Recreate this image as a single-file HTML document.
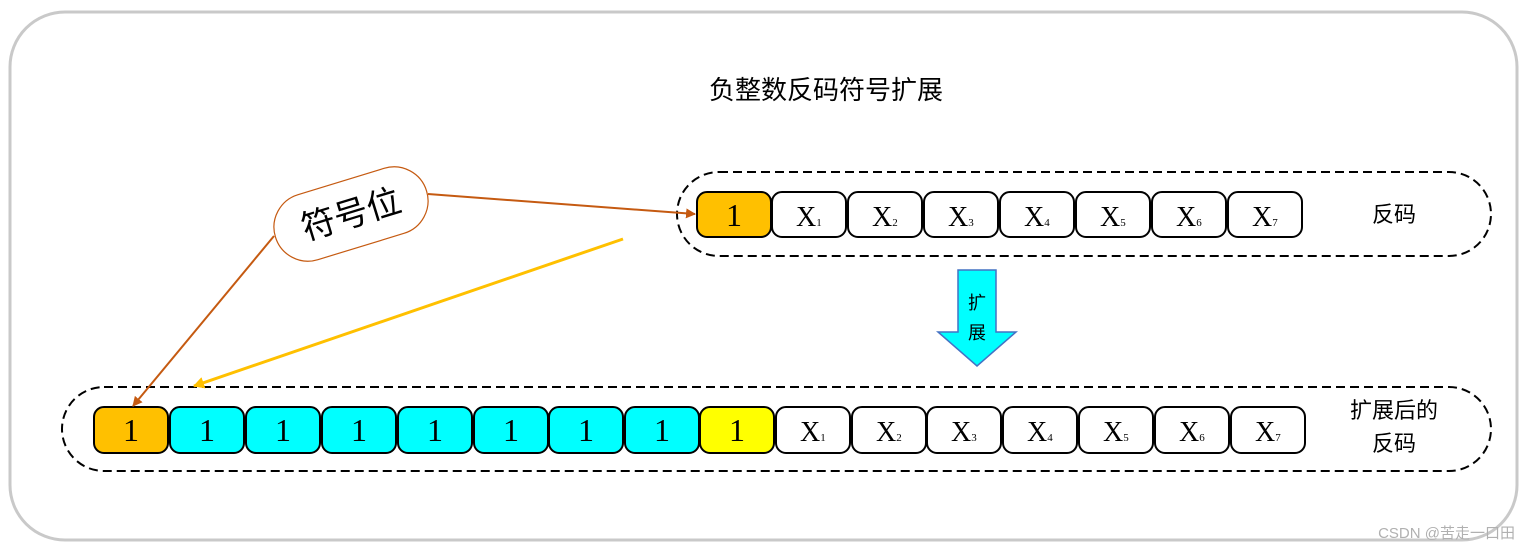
<!DOCTYPE html>
<html><head><meta charset="utf-8"><style>
body{margin:0;background:#fff;}
svg{display:block;}
.c{font-family:"Liberation Serif","Noto Serif CJK SC",serif;}
.z{font-family:"Liberation Sans","Noto Sans CJK SC",sans-serif;}
</style></head><body>
<svg width="1527" height="551" viewBox="0 0 1527 551" xmlns="http://www.w3.org/2000/svg">
<defs>
<marker id="ab" markerWidth="10" markerHeight="10" refX="9" refY="5" orient="auto" markerUnits="userSpaceOnUse"><path d="M0,0 L10,5 L0,10 z" fill="#c55a11"/></marker>
<marker id="ay" markerWidth="12" markerHeight="12" refX="10" refY="6" orient="auto" markerUnits="userSpaceOnUse"><path d="M0,0 L11,6 L0,12 z" fill="#ffc000"/></marker>
</defs>
<rect x="10" y="12" width="1507" height="528" rx="55" fill="#fff" stroke="#c9c9c9" stroke-width="3"/>
<text x="826" y="99" font-size="26" text-anchor="middle" class="z">负整数反码符号扩展</text>
<rect x="677" y="172" width="814" height="84" rx="42" fill="none" stroke="#000" stroke-width="2" stroke-dasharray="9,5"/>
<rect x="62" y="387" width="1429" height="84" rx="42" fill="none" stroke="#000" stroke-width="2" stroke-dasharray="9,5"/>
<g stroke="#000" stroke-width="2">
<rect x="697" y="192" width="74" height="45" rx="10" fill="#ffc000"/>
<g fill="#fff">
<rect x="772" y="192" width="74" height="45" rx="10"/><rect x="848" y="192" width="74" height="45" rx="10"/>
<rect x="924" y="192" width="74" height="45" rx="10"/><rect x="1000" y="192" width="74" height="45" rx="10"/>
<rect x="1076" y="192" width="74" height="45" rx="10"/><rect x="1152" y="192" width="74" height="45" rx="10"/>
<rect x="1228" y="192" width="74" height="45" rx="10"/>
</g>
<rect x="94" y="407" width="74" height="46" rx="10" fill="#ffc000"/>
<g fill="#00ffff">
<rect x="170" y="407" width="74" height="46" rx="10"/><rect x="246" y="407" width="74" height="46" rx="10"/>
<rect x="322" y="407" width="74" height="46" rx="10"/><rect x="398" y="407" width="74" height="46" rx="10"/>
<rect x="474" y="407" width="74" height="46" rx="10"/><rect x="549" y="407" width="74" height="46" rx="10"/>
<rect x="625" y="407" width="74" height="46" rx="10"/>
</g>
<rect x="700" y="407" width="74" height="46" rx="10" fill="#ffff00"/>
<g fill="#fff">
<rect x="776" y="407" width="74" height="46" rx="10"/><rect x="852" y="407" width="74" height="46" rx="10"/>
<rect x="927" y="407" width="74" height="46" rx="10"/><rect x="1003" y="407" width="74" height="46" rx="10"/>
<rect x="1079" y="407" width="74" height="46" rx="10"/><rect x="1155" y="407" width="74" height="46" rx="10"/>
<rect x="1231" y="407" width="74" height="46" rx="10"/>
</g>
</g>
<g class="c" font-size="32" text-anchor="middle">
<text x="734" y="226">1</text>
<text x="131" y="441">1</text><text x="207" y="441">1</text><text x="283" y="441">1</text><text x="359" y="441">1</text>
<text x="435" y="441">1</text><text x="511" y="441">1</text><text x="586" y="441">1</text><text x="662" y="441">1</text><text x="737" y="441">1</text>
</g>
<g class="c" font-size="28">
<text x="796" y="226">X<tspan font-size="11">1</tspan></text>
<text x="872" y="226">X<tspan font-size="11">2</tspan></text>
<text x="948" y="226">X<tspan font-size="11">3</tspan></text>
<text x="1024" y="226">X<tspan font-size="11">4</tspan></text>
<text x="1100" y="226">X<tspan font-size="11">5</tspan></text>
<text x="1176" y="226">X<tspan font-size="11">6</tspan></text>
<text x="1252" y="226">X<tspan font-size="11">7</tspan></text>
<text x="800" y="441">X<tspan font-size="11">1</tspan></text>
<text x="876" y="441">X<tspan font-size="11">2</tspan></text>
<text x="951" y="441">X<tspan font-size="11">3</tspan></text>
<text x="1027" y="441">X<tspan font-size="11">4</tspan></text>
<text x="1103" y="441">X<tspan font-size="11">5</tspan></text>
<text x="1179" y="441">X<tspan font-size="11">6</tspan></text>
<text x="1255" y="441">X<tspan font-size="11">7</tspan></text>
</g>
<text x="1394" y="222" font-size="22" text-anchor="middle" class="z">反码</text>
<text x="1394" y="418" font-size="22" text-anchor="middle" class="z">扩展后的</text>
<text x="1394" y="451" font-size="22" text-anchor="middle" class="z">反码</text>
<path d="M958,270 L996,270 L996,332 L1016,332 L977,366 L938,332 L958,332 Z" fill="#00ffff" stroke="#4472c4" stroke-width="1.5"/>
<text x="977" y="309" font-size="18" text-anchor="middle" class="z">扩</text>
<text x="977" y="339" font-size="18" text-anchor="middle" class="z">展</text>
<g transform="rotate(-17 351 214)">
<rect x="272" y="180" width="158" height="68" rx="34" fill="#fff" stroke="#c55a11" stroke-width="1.2"/>
<text x="351" y="226" font-size="34" text-anchor="middle" class="z">符号位</text>
</g>
<line x1="428" y1="194" x2="695" y2="214" stroke="#c55a11" stroke-width="2" marker-end="url(#ab)"/>
<line x1="274" y1="236" x2="133" y2="406" stroke="#c55a11" stroke-width="2" marker-end="url(#ab)"/>
<line x1="623" y1="239" x2="194" y2="386" stroke="#ffc000" stroke-width="3" marker-end="url(#ay)"/>
<text x="1515" y="538" font-size="15" text-anchor="end" fill="#b0b0b0" class="z">CSDN @苦走一口田</text>
</svg>
</body></html>
